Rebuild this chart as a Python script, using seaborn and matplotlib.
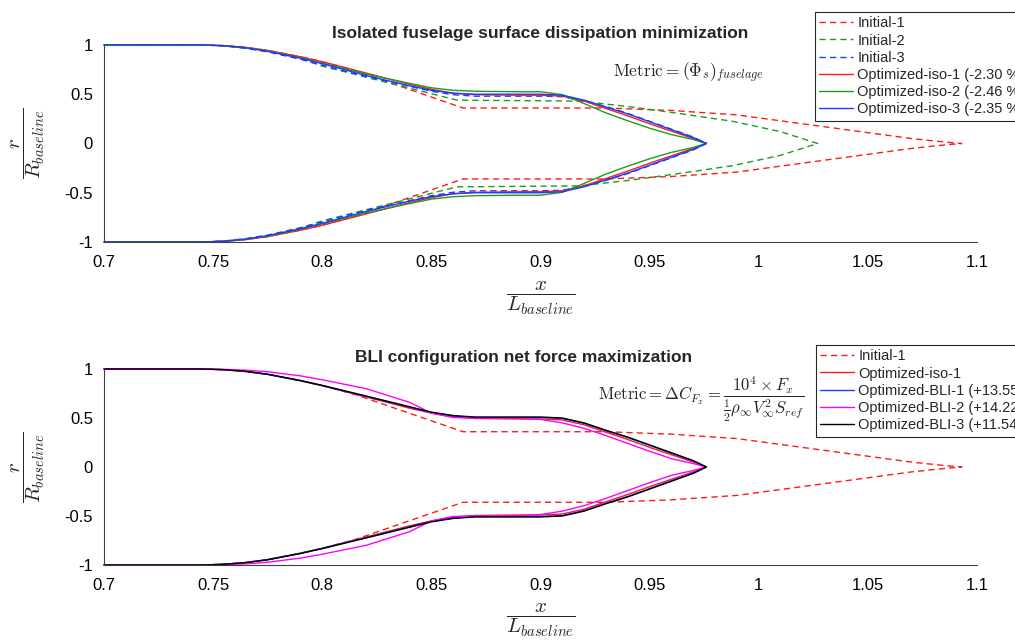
import matplotlib
matplotlib.use("Agg")
import matplotlib.pyplot as plt
import seaborn as sns

# upper-surface profiles (r / R_baseline vs x / L_baseline); the lower surface is the mirror image
X_OPT = [0.700, 0.745, 0.755, 0.765, 0.775, 0.790, 0.800, 0.820, 0.840, 0.850, 0.860,
         0.870, 0.890, 0.900, 0.910, 0.920, 0.930, 0.940, 0.950, 0.960, 0.970, 0.976]

R_ISO1 = [1.0, 1.0, 0.993, 0.975, 0.945, 0.88, 0.83, 0.715, 0.60, 0.55, 0.51,
          0.495, 0.49, 0.49, 0.48, 0.43, 0.355, 0.28, 0.20, 0.125, 0.05, 0.0]
R_ISO2 = [1.0, 1.0, 0.992, 0.972, 0.94, 0.87, 0.815, 0.705, 0.61, 0.565, 0.54,
          0.53, 0.525, 0.525, 0.495, 0.405, 0.31, 0.23, 0.155, 0.09, 0.04, 0.0]
R_ISO3 = [1.0, 1.0, 0.992, 0.97, 0.935, 0.865, 0.81, 0.69, 0.585, 0.54, 0.51,
          0.50, 0.50, 0.50, 0.49, 0.44, 0.37, 0.30, 0.22, 0.14, 0.06, 0.0]
R_INIT3 = [1.0, 1.0, 0.99, 0.965, 0.93, 0.855, 0.795, 0.68, 0.58, 0.53, 0.495,
           0.48, 0.48, 0.48, 0.475, 0.43, 0.375, 0.305, 0.225, 0.145, 0.065, 0.0]
R_BLI1 = [1.0, 1.0, 0.993, 0.975, 0.945, 0.88, 0.83, 0.72, 0.61, 0.555, 0.52,
          0.505, 0.505, 0.505, 0.495, 0.445, 0.37, 0.30, 0.22, 0.14, 0.06, 0.0]
R_BLI2 = [1.0, 1.0, 0.997, 0.988, 0.972, 0.93, 0.89, 0.80, 0.66, 0.55, 0.505,
          0.50, 0.497, 0.485, 0.45, 0.395, 0.32, 0.24, 0.16, 0.085, 0.035, 0.0]
R_BLI3 = [1.0, 1.0, 0.993, 0.976, 0.947, 0.883, 0.833, 0.725, 0.615, 0.56, 0.525,
          0.51, 0.51, 0.51, 0.50, 0.45, 0.375, 0.305, 0.225, 0.145, 0.065, 0.0]

X_INIT1 = [0.700, 0.745, 0.755, 0.765, 0.775, 0.790, 0.800, 0.815, 0.8645, 0.930,
           0.960, 0.990, 1.020, 1.050, 1.070, 1.085, 1.093]
R_INIT1 = [1.0, 1.0, 0.993, 0.975, 0.945, 0.88, 0.83, 0.74, 0.36, 0.36,
           0.335, 0.29, 0.20, 0.11, 0.05, 0.015, 0.0]

X_INIT2 = [0.700, 0.745, 0.755, 0.765, 0.775, 0.790, 0.800, 0.8617, 0.918, 0.942,
           0.965, 0.988, 1.010, 1.027]
R_INIT2 = [1.0, 1.0, 0.992, 0.97, 0.935, 0.86, 0.785, 0.44, 0.43, 0.37,
           0.30, 0.225, 0.12, 0.0]

X_TICKS = [0.7, 0.75, 0.8, 0.85, 0.9, 0.95, 1.0, 1.05, 1.1]
X_TICKLABELS = ["0.7", "0.75", "0.8", "0.85", "0.9", "0.95", "1", "1.05", "1.1"]
Y_TICKS = [-1, -0.5, 0, 0.5, 1]
Y_TICKLABELS = ["-1", "-0.5", "0", "0.5", "1"]

TOP_LABELS = ["Initial-1", "Initial-2", "Initial-3",
              "Optimized-iso-1 (-2.30 %)", "Optimized-iso-2 (-2.46 %)",
              "Optimized-iso-3 (-2.35 %)"]
BOT_LABELS = ["Initial-1", "Optimized-iso-1", "Optimized-BLI-1 (+13.55)",
              "Optimized-BLI-2 (+14.22)", "Optimized-BLI-3 (+11.54)"]

RED, GREEN, BLUE, MAGENTA, BLACK = "#ff1a1a", "#1f9a1f", "#1a3cff", "#ff00ff", "#000000"

sns.set_theme(style="white")
plt.rcParams["font.family"] = ["Liberation Sans", "DejaVu Sans"]
plt.rcParams["mathtext.fontset"] = "cm"
plt.rcParams["axes.unicode_minus"] = False


def closed(xs, rs):
    # upper surface nose->tail, then lower surface tail->nose
    return list(xs) + list(xs[::-1]), list(rs) + [-v for v in rs[::-1]]


def draw(ax, xs, rs, color, label, dashed=False):
    x, y = closed(xs, rs)
    kw = dict(dashes=(4.5, 3)) if dashed else {}
    sns.lineplot(x=x, y=y, ax=ax, sort=False, estimator=None, color=color,
                 linewidth=1.0, label=label, clip_on=False, **kw)


def style_axes(ax):
    ax.set_xlim(0.7, 1.1)
    ax.set_ylim(-1, 1)
    ax.set_xticks(X_TICKS, X_TICKLABELS)
    ax.set_yticks(Y_TICKS, Y_TICKLABELS)
    ax.tick_params(direction="in", length=5, width=0.8, color="#404040",
                   labelsize=12, labelcolor="black")
    ax.tick_params(axis="x", pad=9.5)
    ax.tick_params(axis="y", pad=8)
    for s in ["top", "right"]:
        ax.spines[s].set_visible(False)
    for s in ["left", "bottom"]:
        ax.spines[s].set_color("#404040")
        ax.spines[s].set_linewidth(0.8)
    ax.set_ylabel(r"$\dfrac{r}{R_{baseline}}$", fontsize=15)
    ax.yaxis.set_label_coords(-0.087, 0.5)
    ax.yaxis.label.set_va("center")
    ax.set_xlabel(r"$\dfrac{x}{L_{baseline}}$", fontsize=15)
    ax.xaxis.set_label_coords(0.5, -0.285)
    ax.xaxis.label.set_va("center")


def make_legend(ax, fig, x_px, y_px):
    leg = ax.legend(loc="upper left", bbox_to_anchor=(x_px / 1015, 1 - y_px / 644),
                    bbox_transform=fig.transFigure, fontsize=10.5, frameon=True,
                    fancybox=False, edgecolor="#262626", framealpha=1,
                    borderpad=0.3, labelspacing=0.22, handlelength=2.3,
                    handletextpad=0.3, borderaxespad=0)
    leg.get_frame().set_linewidth(0.8)


fig = plt.figure(figsize=(10.15, 6.44), dpi=100)

ax1 = fig.add_axes([0.1025, 0.6242, 0.8601, 0.306])
draw(ax1, X_INIT1, R_INIT1, RED, TOP_LABELS[0], dashed=True)
draw(ax1, X_INIT2, R_INIT2, GREEN, TOP_LABELS[1], dashed=True)
draw(ax1, X_OPT, R_INIT3, BLUE, TOP_LABELS[2], dashed=True)
draw(ax1, X_OPT, R_ISO1, RED, TOP_LABELS[3])
draw(ax1, X_OPT, R_ISO2, GREEN, TOP_LABELS[4])
draw(ax1, X_OPT, R_ISO3, BLUE, TOP_LABELS[5])
style_axes(ax1)
ax1.set_title("Isolated fuselage surface dissipation minimization",
              fontsize=12.5, fontweight="bold", pad=5)
ax1.text(0.583, 0.858, r"$\mathrm{Metric} = (\Phi_s)_{fuselage}$",
         transform=ax1.transAxes, fontsize=12.5, ha="left", va="center")
make_legend(ax1, fig, 815, 12)

ax2 = fig.add_axes([0.1025, 0.1227, 0.8601, 0.3043])
draw(ax2, X_INIT1, R_INIT1, RED, BOT_LABELS[0], dashed=True)
draw(ax2, X_OPT, R_ISO1, RED, BOT_LABELS[1])
draw(ax2, X_OPT, R_BLI1, BLUE, BOT_LABELS[2])
draw(ax2, X_OPT, R_BLI2, MAGENTA, BOT_LABELS[3])
draw(ax2, X_OPT, R_BLI3, BLACK, BOT_LABELS[4])
style_axes(ax2)
ax2.set_title("BLI configuration net force maximization",
              fontsize=12.5, fontweight="bold", pad=5, x=0.481)
ax2.text(0.566, 0.847,
         r"$\mathrm{Metric} = \Delta C_{F_x} = \dfrac{10^4 \times F_x}{\frac{1}{2}\rho_\infty V_\infty^2 S_{ref}}$",
         transform=ax2.transAxes, fontsize=12, ha="left", va="center")
make_legend(ax2, fig, 816, 345)

fig.savefig("out.png", dpi=100)
